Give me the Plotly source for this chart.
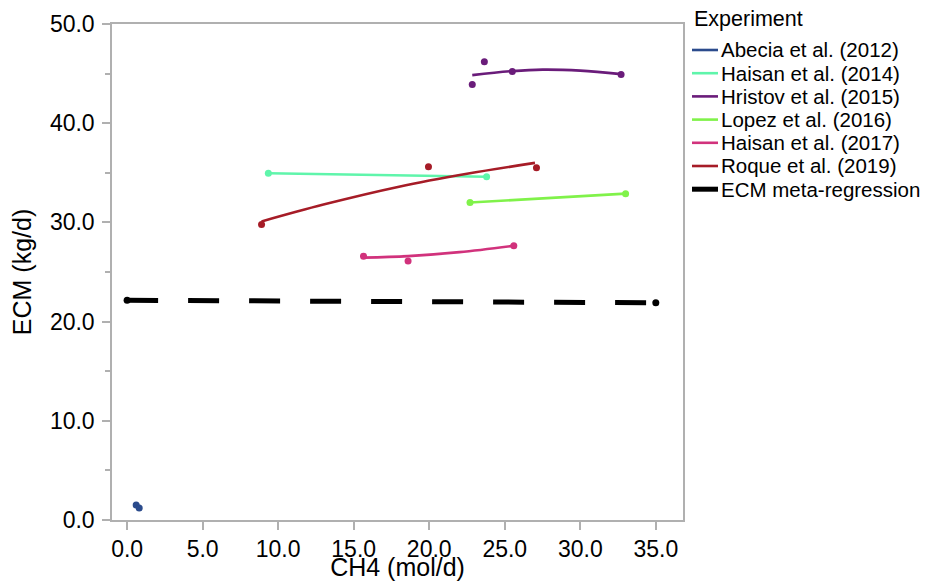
import plotly.graph_objects as go

# ---- data ----
studies = ["Abecia et al. (2012)", "Haisan et al. (2014)", "Hristov et al. (2015)",
           "Lopez et al. (2016)", "Haisan et al. (2017)", "Roque et al. (2019)"]
colors = ["#2b4b8c", "#5ff5ab", "#6a1c7a", "#80f24a", "#d1327c", "#a61c27"]

# observed points (CH4 mol/d, ECM kg/d)
pts_x = [[0.6, 0.8], [9.35, 23.8], [22.85, 23.65, 25.5, 32.7],
         [22.7, 33.0], [15.65, 18.6, 25.6], [8.9, 19.95, 27.1]]
pts_y = [[1.5, 1.2], [34.95, 34.6], [43.9, 46.2, 45.2, 44.9],
         [32.0, 32.9], [26.6, 26.1, 27.65], [29.8, 35.6, 35.5]]

# fitted curves per study
fit_x = [[0.6, 0.8], [9.35, 23.8], [22.85, 25.5, 27.5, 30.0, 32.7],
         [22.7, 33.0], [15.65, 18.6, 22.0, 25.6], [8.9, 13.0, 18.0, 22.5, 27.0]]
fit_y = [[1.5, 1.2], [34.95, 34.6], [44.85, 45.25, 45.4, 45.3, 44.95],
         [32.0, 32.9], [26.45, 26.6, 27.0, 27.65], [30.1, 31.8, 33.6, 34.9, 36.0]]

# meta-regression
meta_name = "ECM meta-regression"
meta_x = [0.0, 35.0]
meta_y = [22.15, 21.9]

x_ticks = [0, 5, 10, 15, 20, 25, 30, 35]
y_ticks = [0, 10, 20, 30, 40, 50]
legend_title = "Experiment"

FONT = "Liberation Sans, Arial, Helvetica"

fig = go.Figure()
for name, col, fx, fy in zip(studies, colors, fit_x, fit_y):
    fig.add_trace(go.Scatter(x=fx, y=fy, mode="lines", name=name,
                             line=dict(color=col, width=2.6, shape="spline"),
                             showlegend=False))
for name, col, px_, py_ in zip(studies, colors, pts_x, pts_y):
    fig.add_trace(go.Scatter(x=px_, y=py_, mode="markers", name=name,
                             marker=dict(color=col, size=7), showlegend=False))
fig.add_trace(go.Scatter(x=meta_x, y=meta_y, mode="lines", name=meta_name,
                         line=dict(color="black", width=5, dash="31px,30px"),
                         showlegend=False))
fig.add_trace(go.Scatter(x=meta_x, y=meta_y, mode="markers", showlegend=False,
                         marker=dict(color="black", size=7)))

# page offset of the figure inside the browser window (default body margin)
OFF = 8
FIG_W, FIG_H = 933 - OFF, 581 - OFF
# plot-area geometry in window pixels
L, R, T, B = 112, 683, 24, 520
W, H = R - L, B - T
def px(x):
    return (x - L) / W
def py(y):
    return (B - y) / H

shapes, annotations = [], []
annotations.append(dict(text=legend_title, xref="paper", yref="paper", x=px(692), y=py(19),
                        xanchor="left", yanchor="middle", showarrow=False,
                        font=dict(family=FONT, size=21.5, color="black")))
leg_names = studies + [meta_name]
leg_colors = colors + ["black"]
leg_widths = [2.6] * len(studies) + [5]
for i, (n, c, w) in enumerate(zip(leg_names, leg_colors, leg_widths)):
    yy = 50 + i * 23.2
    shapes.append(dict(type="line", xref="paper", yref="paper", x0=px(692), x1=px(718),
                       y0=py(yy), y1=py(yy), line=dict(color=c, width=w)))
    annotations.append(dict(text=n, xref="paper", yref="paper", x=px(719), y=py(yy),
                            xanchor="left", yanchor="middle", showarrow=False,
                            font=dict(family=FONT, size=20.5, color="black")))

axis_common = dict(showline=True, linecolor="#b0b0b0", linewidth=1.5, mirror=True,
                   showgrid=False, zeroline=False, ticks="outside", tickcolor="#b0b0b0",
                   ticklen=8, tickwidth=1.5, tickformat=".1f", automargin=False,
                   tickfont=dict(family=FONT, size=23, color="black"))

fig.update_layout(
    width=FIG_W, height=FIG_H,
    margin=dict(l=L - OFF, r=FIG_W - (R - OFF), t=T - OFF, b=FIG_H - (B - OFF)),
    plot_bgcolor="white", paper_bgcolor="white",
    font=dict(family=FONT, color="black"),
    xaxis=dict(range=[-1, 36.8], tickvals=x_ticks,
               title=dict(text="CH4 (mol/d)", font=dict(size=25), standoff=6),
               **axis_common),
    yaxis=dict(range=[0, 50], tickvals=y_ticks, ticklabelstandoff=3,
               minor=dict(dtick=5, ticks="outside", ticklen=5, tickcolor="#b0b0b0", tickwidth=1.5),
               title=dict(text="ECM (kg/d)", font=dict(size=25), standoff=12),
               **axis_common),
    shapes=shapes, annotations=annotations,
    showlegend=False,
)

fig.write_html("out.html")
